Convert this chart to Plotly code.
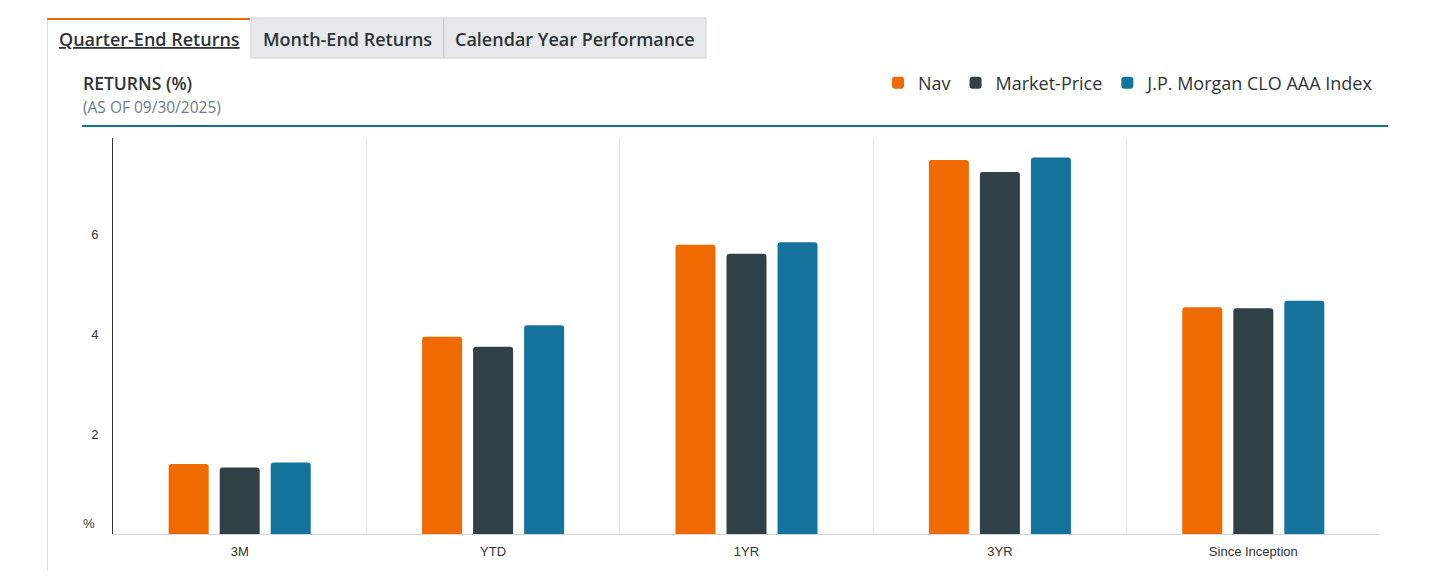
import plotly.graph_objects as go

categories = ["3M", "YTD", "1YR", "3YR", "Since Inception"]
nav = [1.40, 3.95, 5.79, 7.49, 4.54]
market_price = [1.33, 3.75, 5.61, 7.25, 4.52]
jpm_index = [1.43, 4.18, 5.84, 7.54, 4.67]
series_names = ["Nav", "Market-Price", "J.P. Morgan CLO AAA Index"]
series_colors = ["#EF6A00", "#2F4046", "#13739C"]
y_ticks = [2, 4, 6]
tab_labels = ["Quarter-End Returns", "Month-End Returns", "Calendar Year Performance"]

W, H = 1429, 579
OFF = 8  # default page body margin
L, R, T, B = 113, 1380, 138, 534


def px(x):
    return (x - L) / (R - L)


def py(y):
    return (B - y) / (B - T)


fig = go.Figure()
for name, vals, col in zip(series_names, [nav, market_price, jpm_index], series_colors):
    fig.add_trace(go.Bar(x=categories, y=vals, name=name, marker=dict(color=col, line=dict(width=0))))

shapes = []
annotations = []
# container left border
shapes.append(dict(type="line", xref="paper", yref="paper", x0=px(47.5), x1=px(47.5), y0=py(18), y1=py(580),
                   line=dict(color="#DADDE1", width=1)))
# active tab top border
shapes.append(dict(type="rect", xref="paper", yref="paper", x0=px(47), x1=px(250), y0=py(20), y1=py(18),
                   fillcolor="#EF6A00", line=dict(width=0)))
# inactive tabs
for x0, x1 in [(251, 443.5), (444, 706)]:
    shapes.append(dict(type="rect", xref="paper", yref="paper", x0=px(x0), x1=px(x1), y0=py(58), y1=py(18),
                       fillcolor="#E6E8EB", line=dict(color="#CDD0D4", width=1)))
tab_centers = [149, 347, 575]
for i, (lab, cx) in enumerate(zip(tab_labels, tab_centers)):
    font = dict(family="Open Sans", size=18, color="#2E3338", weight=600)
    if i == 0:
        font["lineposition"] = "under"
    annotations.append(dict(text=lab, xref="paper", yref="paper", x=px(cx), y=py(39), xanchor="center",
                            yanchor="middle", showarrow=False, font=font))
# headings
annotations.append(dict(text="RETURNS (%)", xref="paper", yref="paper", x=px(81), y=py(83), xanchor="left",
                        yanchor="middle", showarrow=False,
                        font=dict(family="Open Sans", size=17.5, color="#2E3338", weight=600)))
annotations.append(dict(text="(AS OF 09/30/2025)", xref="paper", yref="paper", x=px(81), y=py(107), xanchor="left",
                        yanchor="middle", showarrow=False,
                        font=dict(family="Open Sans", size=15.5, color="#6E7B87")))
# blue rule
shapes.append(dict(type="line", xref="paper", yref="paper", x0=px(82), x1=px(1388), y0=py(126), y1=py(126),
                   line=dict(color="#13729B", width=2)))
# zero label
annotations.append(dict(text="%", xref="paper", yref="paper", x=px(97), y=py(523), xanchor="right",
                        yanchor="middle", showarrow=False,
                        font=dict(family="Liberation Sans", size=13, color="#333333")))

fw, fh = W - 2 * OFF, H - 2 * OFF
fig.update_layout(
    width=fw, height=fh,
    margin=dict(l=L - OFF, r=fw - (R - OFF), t=T - OFF, b=fh - (B - OFF), pad=0),
    paper_bgcolor="white", plot_bgcolor="white",
    barmode="group", bargap=0.396, bargroupgap=0.216, barcornerradius=3,
    shapes=shapes, annotations=annotations,
    legend=dict(orientation="h", xanchor="right", x=px(1380), yanchor="middle", y=py(83),
                font=dict(family="Open Sans", size=18, color="#2E3338"), traceorder="normal",
                bgcolor="rgba(0,0,0,0)"),
    xaxis=dict(type="category", tickson="boundaries", showgrid=True, gridcolor="#E6E6E6", gridwidth=1,
               showline=True, linecolor="#CCD6EB", linewidth=1, ticks="", ticklabelstandoff=5,
               tickfont=dict(family="Liberation Sans", size=13, color="#333333"), zeroline=False,
               fixedrange=True),
    yaxis=dict(range=[0, 7.93], tickvals=y_ticks, ticktext=[str(v) for v in y_ticks], showgrid=False,
               showline=True, linecolor="#333333", linewidth=1, ticks="", ticklabelstandoff=11,
               tickfont=dict(family="Liberation Sans", size=13, color="#333333"), zeroline=False,
               fixedrange=True),
    showlegend=True,
)

fig.write_html("out.html", config={"displayModeBar": False})
